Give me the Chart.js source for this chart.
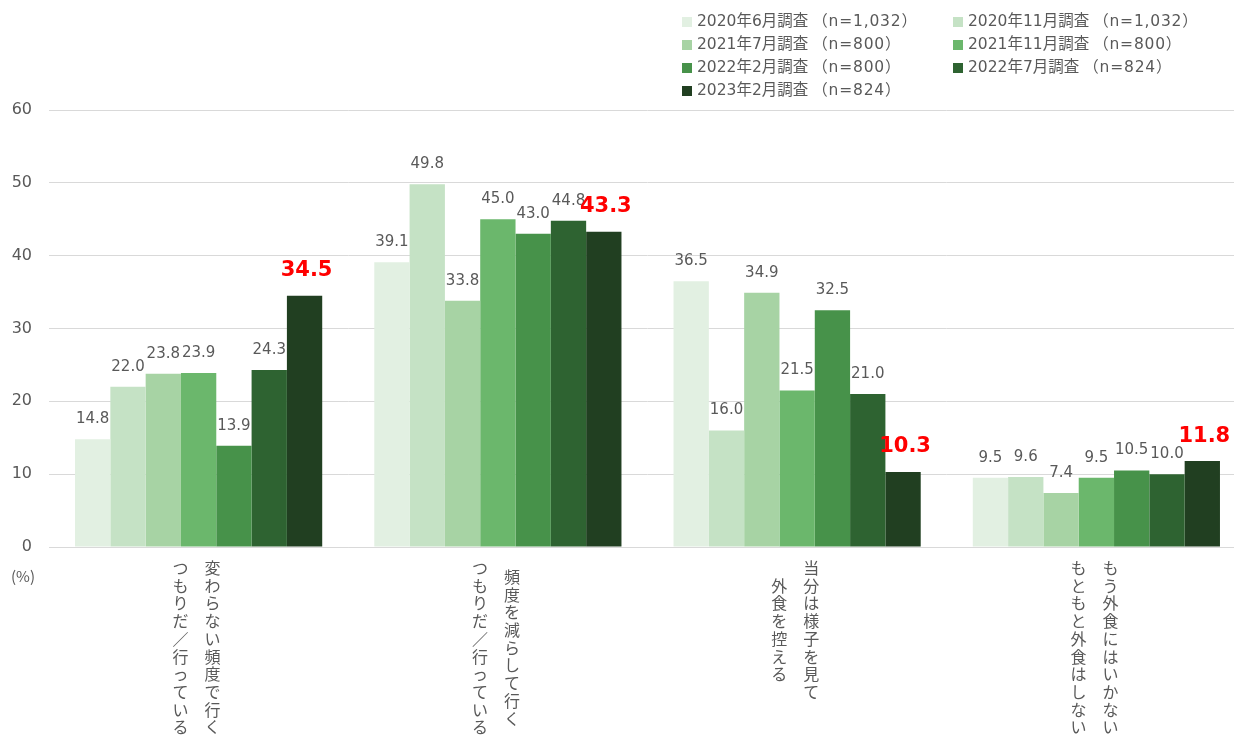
<!DOCTYPE html>
<html>
<head>
<meta charset="utf-8">
<script src="https://cdn.jsdelivr.net/npm/chart.js@4"></script>
<style>
  body { margin: 0; background: #fff; }
  #wrap { position: relative; width: 1234px; height: 742px; overflow: hidden; }
  #legend { position: absolute; left: 682px; top: 11px; width: 552px;
            font-family: "DejaVu Sans", "Noto Sans CJK JP", sans-serif; font-size: 15.5px; color: #595959; }
  .item { position: absolute; white-space: nowrap; line-height: 20px; }
  .box { display: inline-block; width: 10px; height: 10px; margin-right: 5px; vertical-align: -1px; }
  .n { letter-spacing: 0.8px; margin-left: 4px; }
</style>
</head>
<body>
<div id="wrap">
  <canvas id="myChart" width="1246" height="742"></canvas>
  <div id="legend"></div>
</div>
<script>
const categories = [
    ["変わらない頻度で行く", "つもりだ／行っている"],
    ["頻度を減らして行く", "つもりだ／行っている"],
    ["当分は様子を見て", "外食を控える"],
    ["もう外食にはいかない", "もともと外食はしない"]
];
const seriesLabels = [
    "2020年6月調査（n=1,032）", "2020年11月調査（n=1,032）",
    "2021年7月調査（n=800）", "2021年11月調査（n=800）",
    "2022年2月調査（n=800）", "2022年7月調査（n=824）",
    "2023年2月調査（n=824）"
];
const jun2020 = [14.8, 39.1, 36.5, 9.5];
const nov2020 = [22.0, 49.8, 16.0, 9.6];
const jul2021 = [23.8, 33.8, 34.9, 7.4];
const nov2021 = [23.9, 45.0, 21.5, 9.5];
const feb2022 = [13.9, 43.0, 32.5, 10.5];
const jul2022 = [24.3, 44.8, 21.0, 10.0];
const feb2023 = [34.5, 43.3, 10.3, 11.8];
const yTicks = [0, 10, 20, 30, 40, 50, 60];

const colors = ['#e2f0e2', '#c5e2c5', '#a7d3a4', '#6bb76c', '#47924a', '#2e6331', '#213f21'];
const seriesData = [jun2020, nov2020, jul2021, nov2021, feb2022, jul2022, feb2023];

// legend in two columns
const legend = document.getElementById('legend');
seriesLabels.forEach((label, i) => {
    const el = document.createElement('div');
    el.className = 'item';
    el.style.left = (i % 2 ? 271 : 0) + 'px';
    el.style.top = (Math.floor(i / 2) * 23) + 'px';
    const cut = label.indexOf('（');
    el.innerHTML = `<span class="box" style="background:${colors[i]}"></span>${label.slice(0, cut)}<span class="n">${label.slice(cut)}</span>`;
    legend.appendChild(el);
});

const valueLabels = {
    id: 'valueLabels',
    afterDatasetsDraw(chart) {
        const ctx = chart.ctx;
        const last = chart.data.datasets.length - 1;
        ctx.save();
        ctx.textAlign = 'center';
        ctx.textBaseline = 'middle';
        chart.data.datasets.forEach((ds, i) => {
            chart.getDatasetMeta(i).data.forEach((bar, j) => {
                if (i === last) {
                    ctx.font = 'bold 21px "DejaVu Sans", sans-serif';
                    ctx.fillStyle = '#ff0000';
                    ctx.fillText(ds.data[j].toFixed(1), bar.x + 2, bar.y - 25);
                } else {
                    ctx.font = '15px "DejaVu Sans", sans-serif';
                    ctx.fillStyle = '#595959';
                    ctx.fillText(ds.data[j].toFixed(1), bar.x, bar.y - 20);
                }
            });
        });
        ctx.restore();
    }
};

// vertical (upright) category labels, first line on the right
const verticalLabels = {
    id: 'verticalLabels',
    afterDraw(chart) {
        const ctx = chart.ctx;
        const x = chart.scales.x;
        const step = 17.7;
        const topY = 568;
        ctx.save();
        ctx.font = '16px "Noto Sans CJK JP", sans-serif';
        ctx.fillStyle = '#595959';
        ctx.textAlign = 'center';
        ctx.textBaseline = 'middle';
        categories.forEach((lines, i) => {
            const cx = x.getPixelForValue(i);
            const longest = Math.max(...lines.map(l => Array.from(l).length));
            lines.forEach((line, k) => {
                const colX = cx + (k === 0 ? 14 : -18);
                const chars = Array.from(line);
                const top = topY + (longest - chars.length) * step / 2;
                chars.forEach((ch, n) => ctx.fillText(ch, colX, top + n * step));
            });
        });
        ctx.font = '15px "Noto Sans CJK JP", sans-serif';
        ctx.fillText('(%)', 23, 576);
        ctx.restore();
    }
};

const ctx = document.getElementById('myChart').getContext('2d');
new Chart(ctx, {
    type: 'bar',
    data: {
        labels: categories.map(c => c.join('')),
        datasets: seriesData.map((data, i) => ({
            label: seriesLabels[i],
            data: data,
            backgroundColor: colors[i],
            categoryPercentage: 0.826,
            barPercentage: 1.0
        }))
    },
    options: {
        responsive: false,
        animation: false,
        layout: { padding: { top: 110, right: 0, left: 0, bottom: 0 } },
        plugins: {
            legend: { display: false },
            tooltip: { enabled: false }
        },
        scales: {
            x: {
                grid: { display: false },
                border: { color: '#d9d9d9', width: 1 },
                ticks: { display: false },
                afterFit: scale => { scale.height = 195; }
            },
            y: {
                min: 0,
                max: 60,
                afterBuildTicks: scale => { scale.ticks = yTicks.map(v => ({ value: v })); },
                grid: { color: '#d9d9d9', drawTicks: false },
                border: { display: false },
                ticks: {
                    padding: 17,
                    color: '#595959',
                    font: { family: '"DejaVu Sans", sans-serif', size: 16 }
                },
                afterFit: scale => { scale.width = 49; }
            }
        }
    },
    plugins: [valueLabels, verticalLabels]
});
</script>
</body>
</html>
